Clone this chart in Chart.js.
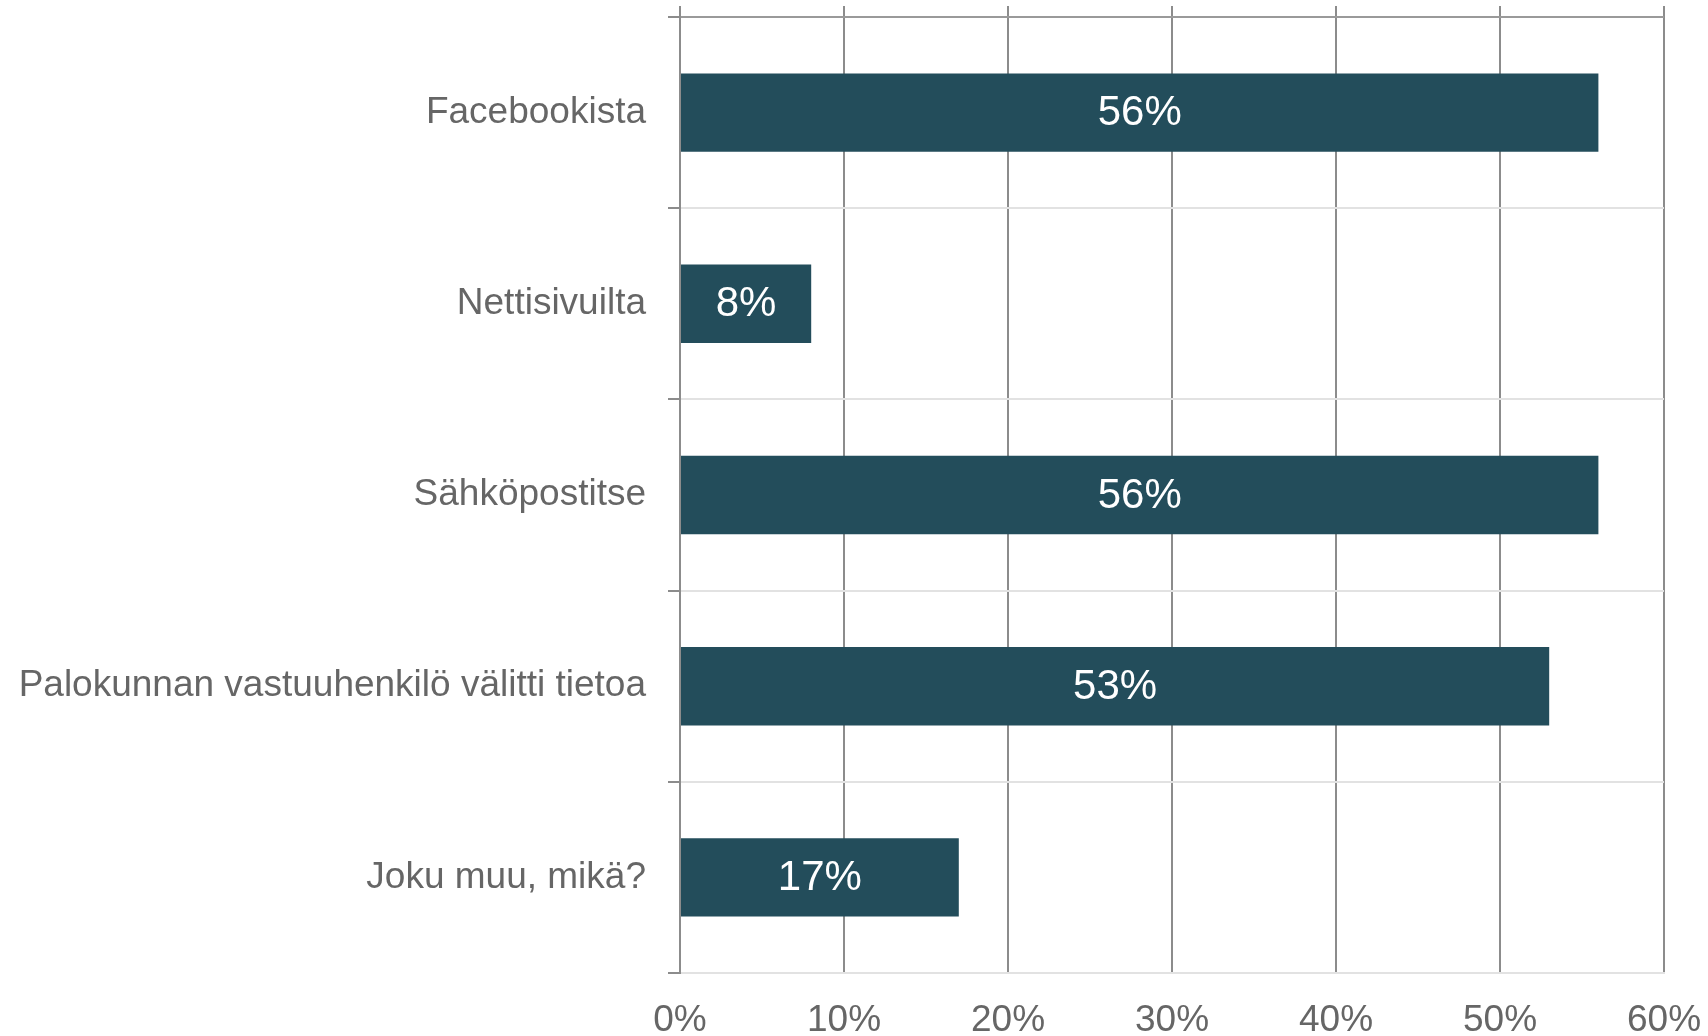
<!DOCTYPE html>
<html>
<head>
<meta charset="utf-8">
<script src="https://cdn.jsdelivr.net/npm/chart.js@4/dist/chart.umd.min.js"></script>
<style>
  html, body { margin: 0; padding: 0; background: #fff; }
  #wrap { width: 1708px; height: 1036px; }
</style>
</head>
<body>
<div id="wrap"><canvas id="chart"></canvas></div>
<script>
// Data
const categories = [
  'Facebookista',
  'Nettisivuilta',
  'Sähköpostitse',
  'Palokunnan vastuuhenkilö välitti tietoa',
  'Joku muu, mikä?'
];
const shares = [56, 8, 56, 53, 17];
const xTicks = [0, 10, 20, 30, 40, 50, 60];

const barColor = '#234d5b';
const textColor = '#666666';
const darkGrid = '#8c8c8c';
const lightGrid = '#e2e2e2';
const fontFamily = '"Liberation Sans", Arial, sans-serif';

// white value labels in the middle of each bar
const barLabels = {
  id: 'barLabels',
  afterDatasetsDraw(chart) {
    const { ctx } = chart;
    const meta = chart.getDatasetMeta(0);
    ctx.save();
    ctx.fillStyle = '#ffffff';
    ctx.font = '42px ' + fontFamily;
    ctx.textAlign = 'center';
    ctx.textBaseline = 'middle';
    meta.data.forEach((bar, i) => {
      const { x, y, base } = bar.getProps(['x', 'y', 'base'], true);
      ctx.fillText(shares[i] + '%', (x + base) / 2, y + 1);
    });
    ctx.restore();
  }
};

// no label overhang padding, the layout padding does it
const noOverhang = (scale) => {
  scale.paddingTop = 0;
  scale.paddingBottom = 0;
  scale.paddingLeft = 0;
  scale.paddingRight = 0;
};

const ctx = document.getElementById('chart');
new Chart(ctx, {
  type: 'bar',
  data: {
    labels: categories,
    datasets: [{
      data: shares,
      backgroundColor: barColor,
      borderWidth: 0,
      categoryPercentage: 1,
      barPercentage: 0.41,
    }],
  },
  plugins: [barLabels],
  options: {
    indexAxis: 'y',
    responsive: true,
    maintainAspectRatio: false,
    animation: false,
    layout: {
      padding: { top: 6, right: 44, left: 0, bottom: 0 },
    },
    scales: {
      x: {
        position: 'bottom',
        min: 0,
        max: 60,
        afterBuildTicks: (scale) => {
          scale.ticks = xTicks.map(v => ({ value: v }));
        },
        afterFit: (scale) => { scale.height = 63; noOverhang(scale); },
        ticks: {
          callback: (value) => value + '%',
          color: textColor,
          font: { family: fontFamily, size: 37 },
          padding: 26,
          maxRotation: 0,
        },
        grid: {
          color: darkGrid,
          lineWidth: 2,
          drawTicks: false,
        },
        border: {
          color: lightGrid,
          width: 2,
        },
      },
      x2: {
        axis: 'x',
        type: 'linear',
        position: 'top',
        min: 0,
        max: 60,
        afterBuildTicks: (scale) => {
          scale.ticks = xTicks.map(v => ({ value: v }));
        },
        afterFit: (scale) => { scale.height = 11; noOverhang(scale); },
        ticks: { display: false },
        grid: {
          drawOnChartArea: false,
          tickLength: 11,
          tickColor: darkGrid,
          lineWidth: 2,
        },
        border: { display: false },
      },
      y: {
        afterFit: (scale) => { scale.width = 680; noOverhang(scale); },
        ticks: {
          color: textColor,
          font: { family: fontFamily, size: 37 },
          padding: 22,
        },
        grid: {
          offset: true,
          lineWidth: 2,
          color: (c) => c.index === 0 ? '#9a9a9a' : lightGrid,
          tickColor: darkGrid,
          tickLength: 12,
        },
        border: {
          color: darkGrid,
          width: 2,
        },
      },
    },
    plugins: {
      legend: { display: false },
      tooltip: { enabled: false },
    },
  },
});
</script>
</body>
</html>
